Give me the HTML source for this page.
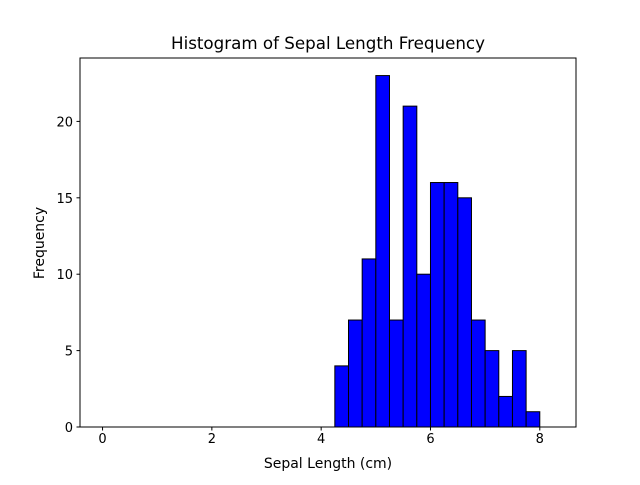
<!DOCTYPE html>
<html><head><meta charset="utf-8"><style>
body{margin:0;background:#fff;font-family:"Liberation Sans","DejaVu Sans",sans-serif}
svg text{font-family:"DejaVu Sans","Liberation Sans",sans-serif;fill:#000}
</style></head><body>
<svg id="c" width="640" height="480" xmlns="http://www.w3.org/2000/svg">
<rect width="640" height="480" fill="#fff"/>
<g id="bars"></g>
<rect x="80" y="58" width="496" height="369" fill="none" stroke="#000" stroke-width="1"/>
<g id="xt"></g>
<g id="yt"></g>
<text x="328" y="49" font-size="16.7" text-anchor="middle">Histogram of Sepal Length Frequency</text>
<text x="328" y="468" font-size="14" text-anchor="middle">Sepal Length (cm)</text>
<text transform="translate(44,243) rotate(-90)" font-size="14" text-anchor="middle">Frequency</text>
</svg>
<script>
const binStart = 0;
const binWidth = 0.25;
const counts = [0,0,0,0,0,0,0,0,0,0,0,0,0,0,0,0,0,4,7,11,23,7,21,10,16,16,15,7,5,2,5,1,0];
const xTicks = [0,2,4,6,8];
const yTicks = [0,5,10,15,20];
const L=80,R=576,T=58,B=427;
const xmin=-0.4125,xmax=8.6625,ymax=24.15;
const X=v=>L+(v-xmin)/(xmax-xmin)*(R-L);
const Y=v=>B-v/ymax*(B-T);
const NS="http://www.w3.org/2000/svg";
const bars=document.getElementById('bars');
counts.forEach((c,i)=>{
 const x0=X(binStart+i*binWidth),x1=X(binStart+(i+1)*binWidth);
 const r=document.createElementNS(NS,'rect');
 r.setAttribute('x',x0);r.setAttribute('y',Y(c));
 r.setAttribute('width',x1-x0);r.setAttribute('height',B-Y(c));
 r.setAttribute('fill','#0000ff');r.setAttribute('stroke','#000');r.setAttribute('stroke-width','1');
 
 
 bars.appendChild(r);
});
const xt=document.getElementById('xt');
xTicks.forEach(t=>{
 const l=document.createElementNS(NS,'line');
 l.setAttribute('x1',X(t));l.setAttribute('x2',X(t));l.setAttribute('y1',B);l.setAttribute('y2',B+3.5);l.setAttribute('stroke','#000');
 
 
 xt.appendChild(l);
 const s=document.createElementNS(NS,'text');
 s.setAttribute('x',X(t));s.setAttribute('y',B+16);s.setAttribute('font-size','13');s.setAttribute('text-anchor','middle');
 s.textContent=t;
 
 
 xt.appendChild(s);
});
const yt=document.getElementById('yt');
yTicks.forEach(t=>{
 const l=document.createElementNS(NS,'line');
 l.setAttribute('x1',L-3.5);l.setAttribute('x2',L);l.setAttribute('y1',Y(t));l.setAttribute('y2',Y(t));l.setAttribute('stroke','#000');
 
 
 yt.appendChild(l);
 const s=document.createElementNS(NS,'text');
 s.setAttribute('x',L-7);s.setAttribute('y',Y(t)+5);s.setAttribute('font-size','13');s.setAttribute('text-anchor','end');
 s.textContent=t;
 
 
 yt.appendChild(s);
});
</script>
</body></html>
